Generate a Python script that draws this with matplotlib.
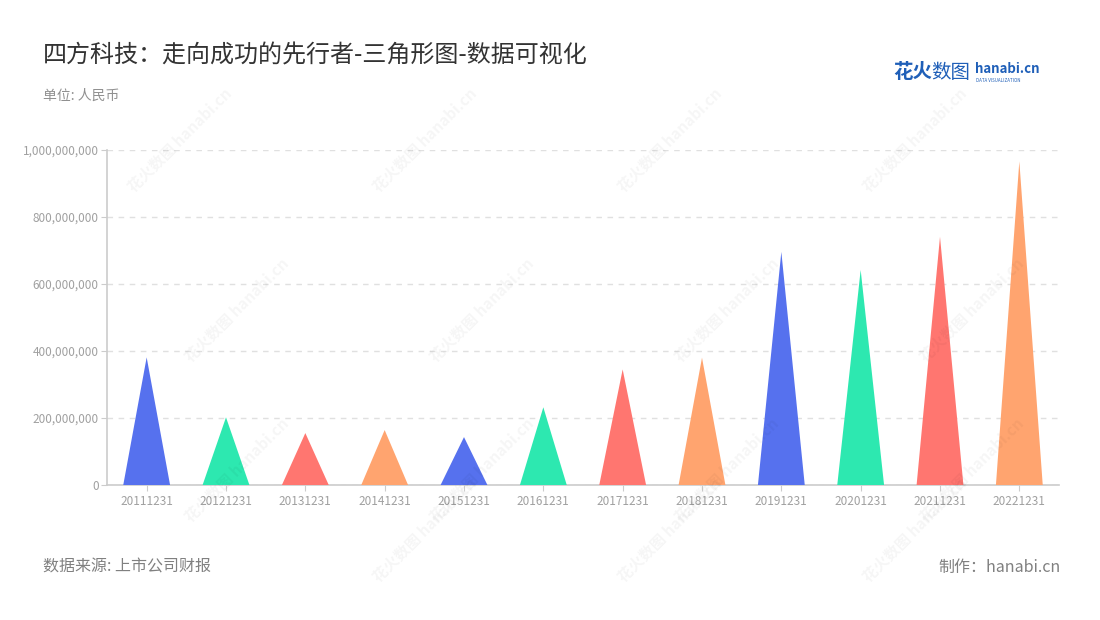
import matplotlib
matplotlib.use("Agg")
import matplotlib.pyplot as plt
from matplotlib.ticker import FuncFormatter, MultipleLocator

plt.rcParams['font.family'] = ['Noto Sans CJK SC', 'DejaVu Sans']

categories = ["20111231", "20121231", "20131231", "20141231", "20151231", "20161231",
              "20171231", "20181231", "20191231", "20201231", "20211231", "20221231"]
values = [381e6, 202e6, 155e6, 164e6, 143e6, 232e6,
          345e6, 380e6, 696e6, 642e6, 741e6, 966e6]
palette = ["#5671EE", "#2DE8B0", "#FF7670", "#FFA46F"]

title = "四方科技：走向成功的先行者-三角形图-数据可视化"
unit = "单位: 人民币"
source = "数据来源: 上市公司财报"
maker = "制作：hanabi.cn"

W, H = 1100, 620
fig = plt.figure(figsize=(W / 100, H / 100), dpi=100)
ax = fig.add_axes([107 / W, 1 - 485 / H, (1059 - 107) / W, (485 - 150) / H])

half = 0.295
for i, v in enumerate(values):
    ax.fill([i - half, i, i + half], [0, v, 0], color=palette[i % 4], lw=0, zorder=3)

ax.set_xlim(-0.5, len(categories) - 0.5)
ax.set_ylim(0, 1e9)
ax.set_xticks(range(len(categories)))
ax.set_xticklabels(categories)
ax.yaxis.set_major_locator(MultipleLocator(2e8))
ax.yaxis.set_major_formatter(FuncFormatter(lambda v, p: f"{int(v):,}"))
ax.grid(axis="y", color="#e0e0e0", linestyle=(0, (4, 4)), lw=1)
ax.set_axisbelow(True)
for s in ["top", "right"]:
    ax.spines[s].set_visible(False)
for s in ["left", "bottom"]:
    ax.spines[s].set_color("#cccccc")
    ax.spines[s].set_linewidth(1.2)
ax.tick_params(axis="x", colors="#cccccc", labelcolor="#a0a0a0", labelsize=8.5, length=4, pad=3)
ax.tick_params(axis="y", colors="#cccccc", labelcolor="#a0a0a0", labelsize=8.5, length=4, pad=2)
ax.patch.set_alpha(0)

# watermarks
wm_pos = [(180, 140), (425, 140), (670, 140), (915, 140),
          (237, 310), (482, 310), (727, 310), (972, 310),
          (237, 470), (482, 470), (727, 470), (972, 470),
          (425, 530), (670, 530), (915, 530)]
for (px, py) in wm_pos:
    fig.text(px / W, 1 - py / H, "花火数图 hanabi.cn", rotation=45, color="#000000",
             alpha=0.04, fontsize=11, fontweight="bold", ha="center", va="center", zorder=5)

fig.text(43 / W, 1 - 55 / H, title, fontsize=17.3, color="#333333", ha="left", va="center")
fig.text(43 / W, 1 - 96 / H, unit, fontsize=10, color="#909090", ha="left", va="center")
fig.text(43 / W, 1 - 567 / H, source, fontsize=11.5, color="#808080", ha="left", va="center")
fig.text(1061 / W, 1 - 567 / H, maker, fontsize=11.5, color="#808080", ha="right", va="center")

# logo
fig.text(893 / W, 1 - 73 / H, "花火", fontsize=14, fontweight="bold", color="#1f5fb8", ha="left", va="center")
fig.text(931 / W, 1 - 73 / H, "数图", fontsize=14, color="#1f5fb8", ha="left", va="center")
fig.text(975 / W, 1 - 69 / H, "hanabi.cn", fontsize=9.5, fontweight="bold", color="#1f5fb8", ha="left", va="center")
fig.text(976 / W, 1 - 80 / H, "DATA VISUALIZATION", fontsize=3.2, color="#1f5fb8", ha="left", va="center")

fig.savefig("out.png", dpi=100, facecolor="white")
